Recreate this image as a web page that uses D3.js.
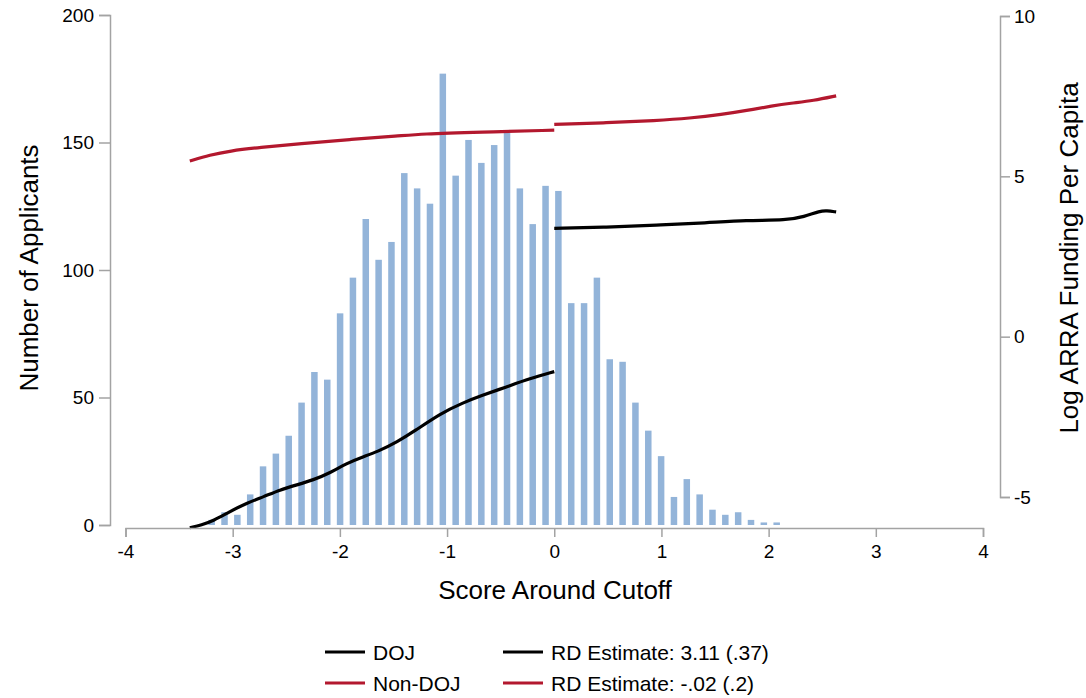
<!DOCTYPE html>
<html>
<head>
<meta charset="utf-8">
<script src="https://cdn.jsdelivr.net/npm/d3@7"></script>
<style>
  html, body { margin: 0; padding: 0; background: #fff; }
  svg { display: block; font-family: "Liberation Sans", Arial, Helvetica, sans-serif; }
</style>
</head>
<body>
<svg id="chart" width="1086" height="698"></svg>
<script>
// Histogram of applicants by score (bins of equal width)
const binStart = -3.196;
const binWidth = 0.1198;
const binCounts = [2, 5, 4, 12, 23, 28, 35, 48, 60, 57, 83, 97, 120, 104, 111, 138, 132, 126, 177, 137,
  151, 142, 149, 154, 132, 118, 133, 131, 87, 87, 97, 65, 64, 48, 37, 27, 11, 18, 12, 6,
  4, 5, 2, 1, 1];

// Fitted lines (log ARRA funding per capita), each side of the cutoff
const dojLeftX  = [-3.40, -3.29, -3.18, -3.03, -2.87, -2.71, -2.56, -2.40, -2.25, -2.09, -1.94, -1.78, -1.65, -1.46, -1.31, -1.06, -0.85, -0.69, -0.44, -0.23, 0.0];
const dojLeftY  = [-5.96, -5.87, -5.74, -5.46, -5.19, -4.99, -4.78, -4.62, -4.47, -4.25, -3.95, -3.74, -3.59, -3.27, -2.96, -2.39, -2.06, -1.85, -1.56, -1.31, -1.09];
const dojRightX = [0.0, 0.49, 0.95, 1.42, 1.79, 2.17, 2.33, 2.48, 2.54, 2.63];
const dojRightY = [3.38, 3.41, 3.48, 3.55, 3.63, 3.63, 3.74, 3.92, 3.93, 3.89];
const nonLeftX  = [-3.40, -3.21, -3.03, -2.75, -2.37, -1.91, -1.44, -1.25, -0.69, 0.0];
const nonLeftY  = [5.48, 5.67, 5.79, 5.90, 6.02, 6.15, 6.26, 6.32, 6.38, 6.44];
const nonRightX = [0.0, 0.49, 0.95, 1.26, 1.57, 1.79, 2.04, 2.20, 2.42, 2.63];
const nonRightY = [6.62, 6.67, 6.74, 6.81, 6.93, 7.05, 7.20, 7.28, 7.36, 7.51];

// Axis ticks and labels
const xTicks = [-4, -3, -2, -1, 0, 1, 2, 3, 4];
const leftTicks = [0, 50, 100, 150, 200];
const rightTicks = [-5, 0, 5, 10];
const legendLabels = ["DOJ", "Non-DOJ", "RD Estimate: 3.11 (.37)", "RD Estimate: -.02 (.2)"];

const barColor = "#93b4d9";
const dojColor = "#000000";
const nonColor = "#b3182e";
const axisColor = "#a3a3a3";

const svg = d3.select("#chart");

const x = d3.scaleLinear().domain([-4, 4]).range([125.5, 983]);
const yL = d3.scaleLinear().domain([0, 200]).range([525, 15]);
const yR = d3.scaleLinear().domain([-5, 10]).range([497, 16]);

// Bars
const barPx = 6.5;
svg.append("g").selectAll("rect")
  .data(binCounts)
  .join("rect")
  .attr("x", (d, i) => x(binStart + i * binWidth) - barPx / 2)
  .attr("width", barPx)
  .attr("y", d => yL(d))
  .attr("height", d => yL(0) - yL(d))
  .attr("fill", barColor);

// Lines
const line = d3.line().x(d => x(d[0])).y(d => yR(d[1])).curve(d3.curveBasis);
function drawLine(xs, ys, color) {
  svg.append("path")
    .datum(xs.map((v, i) => [v, ys[i]]))
    .attr("d", line)
    .attr("fill", "none")
    .attr("stroke", color)
    .attr("stroke-width", 3.2)
    .attr("stroke-linecap", "butt");
}
drawLine(nonLeftX, nonLeftY, nonColor);
drawLine(nonRightX, nonRightY, nonColor);
drawLine(dojLeftX, dojLeftY, dojColor);
drawLine(dojRightX, dojRightY, dojColor);

// Axes
const fmt = d => String(d);
function styleAxis(g) {
  g.selectAll("path.domain").attr("stroke", axisColor).attr("stroke-width", 1.5);
  g.selectAll(".tick line").attr("stroke", axisColor).attr("stroke-width", 1.5);
  g.selectAll(".tick text").attr("fill", "#000").attr("font-size", 19)
    .attr("font-family", "'Liberation Sans', Arial, sans-serif");
}

svg.append("g")
  .attr("transform", "translate(0,528)")
  .call(d3.axisBottom(x).tickValues(xTicks).tickFormat(fmt).tickSize(9).tickPadding(8))
  .call(styleAxis);

svg.append("g")
  .attr("transform", "translate(110,0)")
  .call(d3.axisLeft(yL).tickValues(leftTicks).tickFormat(fmt).tickSize(11).tickPadding(5))
  .call(styleAxis);

svg.append("g")
  .attr("transform", "translate(1000,0)")
  .call(d3.axisRight(yR).tickValues(rightTicks).tickFormat(fmt).tickSize(10).tickPadding(4))
  .call(styleAxis);

// Axis titles
svg.append("text")
  .attr("x", 555).attr("y", 599)
  .attr("text-anchor", "middle").attr("font-size", 26)
  .text("Score Around Cutoff");

svg.append("text")
  .attr("transform", "translate(38,268) rotate(-90)")
  .attr("text-anchor", "middle").attr("font-size", 26)
  .text("Number of Applicants");

svg.append("text")
  .attr("transform", "translate(1078,258) rotate(-90)")
  .attr("text-anchor", "middle").attr("font-size", 26)
  .text("Log ARRA Funding Per Capita");

// Legend
const legendItems = [
  { label: legendLabels[0], color: dojColor, lx: 325, ly: 652 },
  { label: legendLabels[1], color: nonColor, lx: 325, ly: 683 },
  { label: legendLabels[2], color: dojColor, lx: 503, ly: 652 },
  { label: legendLabels[3], color: nonColor, lx: 503, ly: 683 }
];
const lg = svg.append("g");
legendItems.forEach(it => {
  lg.append("line")
    .attr("x1", it.lx).attr("x2", it.lx + 40)
    .attr("y1", it.ly).attr("y2", it.ly)
    .attr("stroke", it.color).attr("stroke-width", 3);
  lg.append("text")
    .attr("x", it.lx + 48).attr("y", it.ly + 7.5)
    .attr("font-size", 21)
    .text(it.label);
});
</script>
</body>
</html>
